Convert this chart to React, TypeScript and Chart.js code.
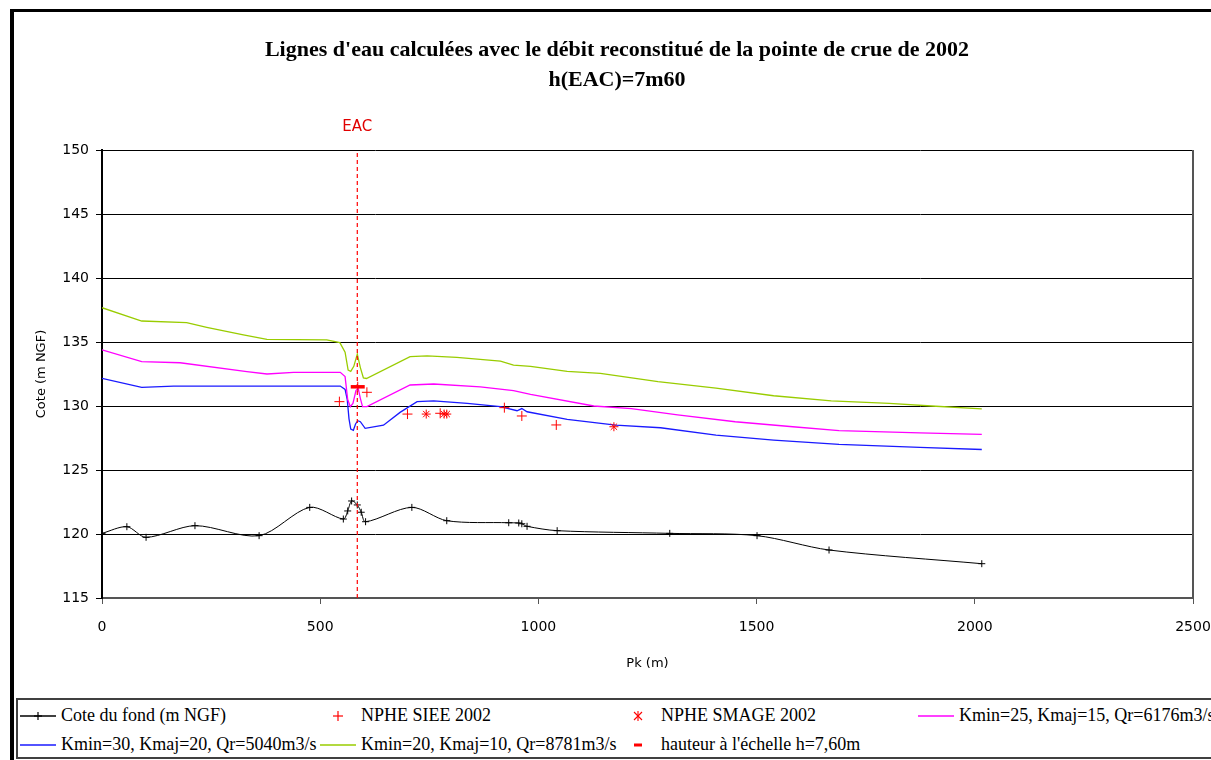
import React, { useEffect, useRef } from 'react';
import { Chart, registerables } from 'chart.js';

Chart.register(...registerables);

// ---- Data ----
const titleLines = ["Lignes d'eau calculées avec le débit reconstitué de la pointe de crue de 2002", 'h(EAC)=7m60'];
const xTitle = 'Pk (m)';
const yTitle = 'Cote (m NGF)';
const eacLabel = 'EAC';
const eacPk = 585;

const fondPk = [0, 57, 101, 213, 360, 476, 553, 563, 572, 585, 594, 604, 710, 790, 932, 955, 962, 974, 1043, 1301, 1501, 1666, 2016];
const fondCote = [120.05, 120.57, 119.74, 120.65, 119.87, 122.08, 121.17, 121.8, 122.58, 122.27, 121.7, 120.96, 122.08, 121.04, 120.88, 120.86, 120.8, 120.6, 120.26, 120.05, 119.87, 118.75, 117.68];

const sieePk = [544, 586, 607, 700, 775, 922, 962, 1041];
const sieeCote = [130.34, 131.5, 131.07, 129.37, 129.43, 129.87, 129.22, 128.52];

const smagePk = [743, 784, 790, 1173];
const smageCote = [129.37, 129.37, 129.37, 128.38];

const k25Pk = [0, 91, 179, 332, 378, 439, 546, 557, 563, 569, 575, 582, 587, 592, 597, 607, 706, 760, 867, 943, 982, 1127, 1213, 1319, 1451, 1583, 1689, 1874, 2016];
const k25Cote = [134.38, 133.46, 133.38, 132.68, 132.5, 132.63, 132.63, 132.3, 130.5, 129.95, 130.2, 131.2, 131.4, 130.6, 129.95, 129.95, 131.64, 131.72, 131.5, 131.2, 130.9, 130.0, 129.8, 129.3, 128.77, 128.38, 128.07, 127.9, 127.79];

const k30Pk = [0, 91, 164, 393, 546, 557, 562, 566, 570, 576, 581, 586, 592, 603, 645, 683, 722, 760, 837, 913, 951, 962, 974, 1066, 1177, 1280, 1407, 1539, 1689, 1874, 2016];
const k30Cote = [132.16, 131.46, 131.56, 131.56, 131.56, 131.3, 130.5, 129.0, 128.2, 128.1, 128.6, 128.85, 128.77, 128.25, 128.5, 129.5, 130.34, 130.4, 130.2, 129.95, 129.63, 129.8, 129.55, 128.96, 128.5, 128.3, 127.73, 127.34, 127.0, 126.77, 126.6];

const k20Pk = [0, 91, 194, 240, 324, 378, 515, 545, 557, 564, 570, 577, 585, 592, 599, 606, 706, 745, 813, 913, 943, 982, 1066, 1142, 1274, 1407, 1539, 1671, 1804, 1901, 2016];
const k20Cote = [137.68, 136.64, 136.51, 136.15, 135.55, 135.2, 135.16, 134.95, 134.2, 132.8, 132.7, 133.1, 134.05, 133.0, 132.2, 132.15, 133.85, 133.92, 133.8, 133.5, 133.2, 133.1, 132.7, 132.55, 131.9, 131.4, 130.8, 130.4, 130.2, 130.0, 129.77];

const hauteurPk = [586];
const hauteurCote = [131.5];

const eacLinePk = [eacPk, eacPk];
const eacLineCote = [115, 150];

const legendLabels = [
  'Cote du fond (m NGF)',
  'NPHE SIEE 2002',
  'NPHE SMAGE 2002',
  'Kmin=25, Kmaj=15, Qr=6176m3/s',
  'Kmin=30, Kmaj=20, Qr=5040m3/s',
  'Kmin=20, Kmaj=10, Qr=8781m3/s',
  "hauteur à l'échelle h=7,60m",
];

const xTicks = { min: 0, max: 2500, step: 500 };
const yTicks = { min: 115, max: 150, step: 5 };

const COLORS = {
  fond: '#000000',
  red: '#ff0000',
  magenta: '#ff00ff',
  blue: '#1a1aff',
  green: '#99cc00',
};

const pts = (xs: number[], ys: number[]) => xs.map((x, i) => ({ x, y: ys[i] }));

const sans = 'DejaVu Sans';
const serif = 'Liberation Serif';

const titlePlugin = {
  id: 'customTitle',
  afterDraw(chart: any) {
    const ctx = chart.ctx;
    ctx.save();
    ctx.fillStyle = '#000';
    ctx.textAlign = 'center';
    ctx.textBaseline = 'middle';
    ctx.font = `bold 22px "${serif}"`;
    ctx.fillText(titleLines[0], 617, 50);
    ctx.fillText(titleLines[1], 617, 80);
    ctx.restore();
  },
};

const eacPlugin = {
  id: 'eacLabel',
  afterDraw(chart: any) {
    const ctx = chart.ctx;
    const x = chart.scales.x.getPixelForValue(eacPk);
    ctx.save();
    ctx.fillStyle = '#e00000';
    ctx.textAlign = 'center';
    ctx.textBaseline = 'middle';
    ctx.font = `15px "${sans}"`;
    ctx.fillText(eacLabel, x, 127);
    ctx.restore();
  },
};

const framePlugin = {
  id: 'plotFrame',
  afterDatasetsDraw(chart: any) {
    const { right, top, bottom } = chart.chartArea;
    const ctx = chart.ctx;
    ctx.save();
    ctx.strokeStyle = '#555';
    ctx.lineWidth = 2;
    ctx.beginPath();
    ctx.moveTo(right, top);
    ctx.lineTo(right, bottom);
    ctx.stroke();
    ctx.restore();
  },
};

function Icon({ kind }: { kind: number }) {
  const w = 40, h = 20, cy = 10;
  const line = (c: string) => <line x1={2} y1={cy} x2={38} y2={cy} stroke={c} strokeWidth={1.5} />;
  const cross = (c: string, r: number) => (
    <g stroke={c} strokeWidth={1.2}>
      <line x1={20 - r} y1={cy} x2={20 + r} y2={cy} />
      <line x1={20} y1={cy - r} x2={20} y2={cy + r} />
    </g>
  );
  let content: any = null;
  if (kind === 0) content = <g>{line('#000')}{cross('#000', 4)}</g>;
  else if (kind === 1) content = cross(COLORS.red, 5);
  else if (kind === 2)
    content = (
      <g stroke={COLORS.red} strokeWidth={1.1}>
        <line x1={20} y1={cy - 5} x2={20} y2={cy + 5} />
        <line x1={16} y1={cy - 4} x2={24} y2={cy + 4} />
        <line x1={16} y1={cy + 4} x2={24} y2={cy - 4} />
      </g>
    );
  else if (kind === 3) content = line(COLORS.magenta);
  else if (kind === 4) content = line(COLORS.blue);
  else if (kind === 5) content = line(COLORS.green);
  else if (kind === 6) content = <line x1={16} y1={cy} x2={24} y2={cy} stroke={COLORS.red} strokeWidth={3} />;
  return (
    <svg width={w} height={h} style={{ position: 'absolute', left: 0, top: -10 }}>
      {content}
    </svg>
  );
}

export default function App() {
  const ref = useRef<HTMLCanvasElement>(null);

  useEffect(() => {
    if (!ref.current) return;
    const chart = new Chart(ref.current, {
      type: 'scatter',
      data: {
        datasets: [
          {
            label: legendLabels[6],
            data: pts(hauteurPk, hauteurCote),
            pointStyle: 'line',
            pointRadius: 7,
            borderColor: COLORS.red,
            backgroundColor: COLORS.red,
            borderWidth: 3.5,
            showLine: false,
          },
          {
            label: legendLabels[1],
            data: pts(sieePk, sieeCote),
            pointStyle: 'cross',
            pointRadius: 5,
            borderColor: COLORS.red,
            borderWidth: 1,
            showLine: false,
          },
          {
            label: legendLabels[2],
            data: pts(smagePk, smageCote),
            pointStyle: 'star',
            pointRadius: 4.5,
            borderColor: COLORS.red,
            borderWidth: 1,
            showLine: false,
          },
          {
            label: 'EAC',
            data: pts(eacLinePk, eacLineCote),
            showLine: true,
            borderColor: COLORS.red,
            borderWidth: 1.2,
            borderDash: [4, 3],
            pointRadius: 0,
          },
          {
            label: legendLabels[0],
            data: pts(fondPk, fondCote),
            showLine: true,
            tension: 0.3,
            borderColor: COLORS.fond,
            borderWidth: 1,
            pointStyle: 'cross',
            pointRadius: 3.5,
            pointBorderColor: COLORS.fond,
            pointBorderWidth: 1,
          },
          {
            label: legendLabels[3],
            data: pts(k25Pk, k25Cote),
            showLine: true,
            borderColor: COLORS.magenta,
            borderWidth: 1.3,
            pointRadius: 0,
          },
          {
            label: legendLabels[4],
            data: pts(k30Pk, k30Cote),
            showLine: true,
            borderColor: COLORS.blue,
            borderWidth: 1.3,
            pointRadius: 0,
          },
          {
            label: legendLabels[5],
            data: pts(k20Pk, k20Cote),
            showLine: true,
            borderColor: COLORS.green,
            borderWidth: 1.3,
            pointRadius: 0,
          },
        ],
      },
      options: {
        responsive: false,
        animation: false,
        events: [],
        layout: { padding: { left: 0, right: 18, top: 150, bottom: 0 } },
        plugins: {
          legend: { display: false },
          title: { display: false },
          tooltip: { enabled: false },
        },
        scales: {
          x: {
            type: 'linear',
            min: xTicks.min,
            max: xTicks.max,
            ticks: {
              stepSize: xTicks.step,
              color: '#000',
              font: { family: sans, size: 14 },
              padding: 15,
              maxRotation: 0,
              callback: (v: any) => String(v),
            },
            grid: {
              display: true,
              drawOnChartArea: false,
              drawTicks: true,
              tickLength: 6,
              color: '#555',
            },
            border: { color: '#555', width: 2 },
            title: {
              display: true,
              text: xTitle,
              color: '#000',
              font: { family: sans, size: 13 },
              padding: { top: 0, bottom: 19 },
            },
            afterFit: (s: any) => {
              s.height = 92;
              s.paddingLeft = 0;
              s.paddingRight = 0;
            },
          },
          y: {
            type: 'linear',
            min: yTicks.min,
            max: yTicks.max,
            ticks: {
              stepSize: yTicks.step,
              color: '#000',
              font: { family: sans, size: 14 },
              padding: 7,
            },
            grid: {
              color: '#000',
              lineWidth: 1,
              tickLength: 6,
            },
            border: { color: '#000', width: 2 },
            title: {
              display: true,
              text: yTitle,
              color: '#000',
              font: { family: sans, size: 13 },
              padding: { top: 34, bottom: 0 },
            },
            afterFit: (s: any) => {
              s.width = 102;
              s.paddingTop = 0;
              s.paddingBottom = 0;
            },
          },
        },
      } as any,
      plugins: [titlePlugin, eacPlugin, framePlugin],
    });
    return () => chart.destroy();
  }, []);

  const cols = [18, 318, 618, 916];
  const rows = [716, 745];
  const positions = [
    [cols[0], rows[0]],
    [cols[1], rows[0]],
    [cols[2], rows[0]],
    [cols[3], rows[0]],
    [cols[0], rows[1]],
    [cols[1], rows[1]],
    [cols[2], rows[1]],
  ];

  return (
    <div style={{ position: 'fixed', left: 0, top: 0, width: 1211, height: 760, overflow: 'hidden', background: '#fff' }}>
      <div
        style={{
          position: 'absolute',
          left: 10,
          top: 9,
          width: 1400,
          height: 1000,
          borderLeft: '4px solid #000',
          borderTop: '3px solid #000',
          boxSizing: 'border-box',
        }}
      />
      <canvas ref={ref} width={1211} height={690} style={{ position: 'absolute', left: 0, top: 0, width: 1211, height: 690 }} />
      <div
        style={{
          position: 'absolute',
          left: 16,
          top: 698,
          width: 1300,
          height: 61,
          border: '2px solid #404040',
          boxSizing: 'border-box',
          background: '#fff',
        }}
      />
      {legendLabels.map((lab, i) => (
        <div
          key={i}
          style={{
            position: 'absolute',
            left: positions[i][0],
            top: positions[i][1],
            height: 0,
            whiteSpace: 'nowrap',
          }}
        >
          <Icon kind={i} />
          <span
            style={{
              position: 'absolute',
              left: 43,
              top: -11,
              lineHeight: '20px',
              fontFamily: serif,
              fontSize: 18,
              color: '#000',
            }}
          >
            {lab}
          </span>
        </div>
      ))}
    </div>
  );
}
